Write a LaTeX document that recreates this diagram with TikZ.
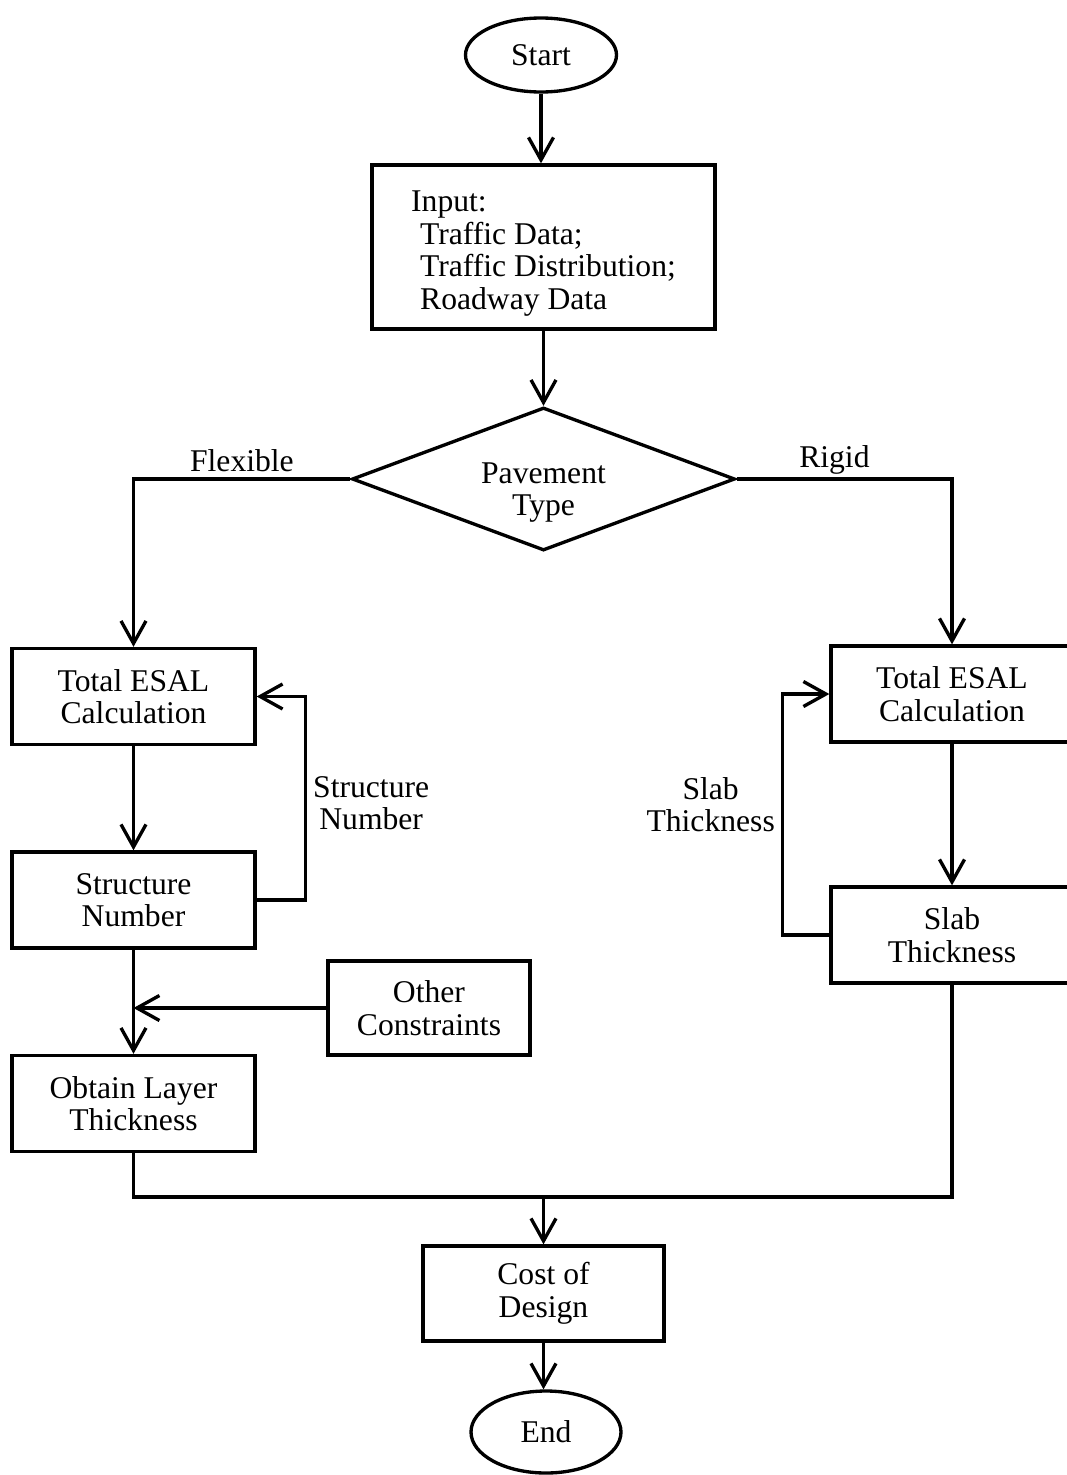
\documentclass[tikz,border=0pt]{standalone}
\usepackage{fontspec}
\setmainfont{Liberation Serif}
\usepackage{tikz}
\usetikzlibrary{shapes.geometric, arrows.meta}
\tikzstyle{startstop} = [ellipse, 
minimum width=3.02cm, 
minimum height=1.48cm,
inner sep=0pt,
text centered, 
draw=black]
\tikzstyle{process} = [rectangle, 
minimum width=4.86cm, 
minimum height=1.92cm, 
inner sep=0pt,
align=center, 
draw=black]
\tikzstyle{decision} = [diamond, 
minimum width=7.66cm, 
minimum height=2.86cm,
aspect=2.68,
inner sep=0pt,
align=center, 
draw=black]
\tikzstyle{arrow} = [->,>={Straight Barb[length=4.5mm,width=5mm]}]

\begin{document}
\begin{tikzpicture}[node distance=2cm, line width=1.9pt,
  every node/.style={font=\fontsize{18}{18.5}\selectfont}]
\useasboundingbox (0,0) rectangle (21.32,-29.5);

\node (start) [startstop] at (10.82,-1.10) {Start};
\node (input) [process, below of=start, node distance=3.84cm, xshift=0.05cm, minimum width=6.86cm, minimum height=3.28cm, align=left] {\rule{0pt}{0.68cm}Input:\\\hspace*{0.18cm}Traffic Data;\\\hspace*{0.18cm}Traffic Distribution;\\\hspace*{0.18cm}Roadway Data};
\node (decision) [decision, below of=input, node distance=4.64cm] {\rule{0pt}{0.95cm}Pavement\\Type};
\node (lesal) [process, below of=decision, node distance=4.35cm, xshift=-8.2cm] {Total ESAL\\Calculation};
\node (sn) [process, below of=lesal, node distance=4.07cm] {Structure\\Number};
\node (olt) [process, below of=sn, node distance=4.07cm] {Obtain Layer\\Thickness};
\node (other) [process, right of=sn, node distance=5.91cm, yshift=-2.16cm, minimum width=4.04cm, minimum height=1.88cm] {Other\\Constraints};
\node (resal) [process, below of=decision, node distance=4.30cm, xshift=8.17cm, minimum width=4.84cm] {Total ESAL\\Calculation};
\node (slab) [process, below of=resal, node distance=4.82cm, minimum width=4.84cm] {Slab\\Thickness};
\node (cost) [process, below of=decision, node distance=16.29cm, minimum width=4.82cm, minimum height=1.9cm] {Cost of\\Design};
\node (end) [startstop, below of=cost, node distance=2.77cm, xshift=0.05cm, minimum width=3.0cm, minimum height=1.64cm] {End};
\coordinate [above of=cost, node distance=1.93cm] (merge);

\draw [arrow] (start.south) -- (start.south |- input.north);
\draw [arrow] (input) -- (decision);
\draw [arrow] (decision.west) -| node[pos=0.25, above] {Flexible} (lesal.north);
\draw [arrow] (decision.east) -| node[pos=0.227, above, yshift=-0.06cm] {Rigid} (resal.north);
\draw [arrow] (lesal) -- (sn);
\draw [arrow] (sn.east) -- ++(0.98,0) |- node[pos=0.238, right, align=center] {Structure\\Number} (lesal.east);
\draw [arrow] (sn) -- (olt);
\draw [arrow] (other.west) -- (other.west -| olt.north);
\draw [arrow] (resal) -- (slab);
\draw [arrow] (slab.west) -- ++(-0.94,0) |- node[pos=0.27, left, align=center] {Slab\\Thickness} (resal.west);
\draw (olt.south) |- (merge);
\draw (slab.south) |- (merge);
\draw [arrow] (merge) -- (cost.north);
\draw [arrow] (cost.south) -- (cost.south |- end.north);

\end{tikzpicture}
\end{document}
